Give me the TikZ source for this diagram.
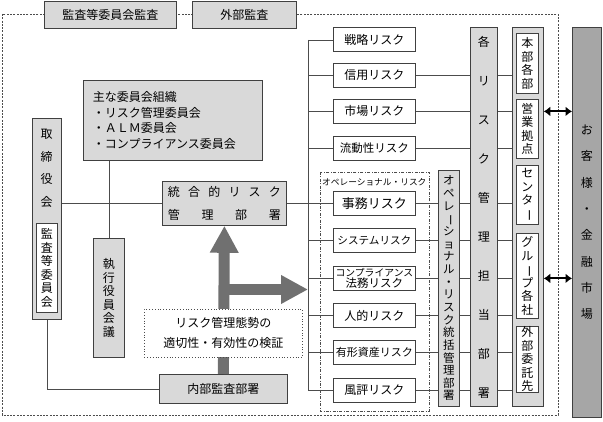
\documentclass[tikz,border=0pt]{standalone}
\usepackage{fontspec}
\setmainfont{Noto Sans CJK JP}
\usepackage{graphicx}
\usetikzlibrary{arrows.meta}
\tikzstyle{gris} = [rectangle, draw=black!75, line width=0.8pt, fill=black!15, inner sep=0pt, align=center, anchor=north west]
\tikzstyle{blanc} = [rectangle, draw=black!75, line width=0.8pt, fill=white, inner sep=0pt, align=center, anchor=north west]
\tikzstyle{risque} = [blanc, minimum width=82pt, minimum height=24pt]
\tikzstyle{tate} = [blanc, minimum width=22pt, font=\fontsize{12}{13.5}\selectfont]
\tikzstyle{trait} = [draw=black!70, line width=0.7pt]
\tikzstyle{fleche} = [draw=black!56, line width=11pt, -{Triangle[length=27pt,width=27pt]}]
\tikzstyle{double} = [draw=black, line width=1.8pt, {Latex[length=6.5pt,width=10pt]}-{Latex[length=6.5pt,width=10pt]}]
\newcommand{\bou}{\rotatebox[origin=c]{-90}{ー}}

\begin{document}
\begin{tikzpicture}[x=1pt, y=-1pt, font=\fontsize{12}{14}\selectfont]
        \useasboundingbox (0,0) rectangle (603,422);

        % cadre pointille
        \draw[draw=black!70, line width=0.6pt, dash pattern=on 2pt off 1.3pt] (2,14) rectangle (558,415);

        \node (AK) [gris, minimum width=132pt, minimum height=27pt] at (44,1) {監査等委員会監査};
        \node (GK) [gris, minimum width=104pt, minimum height=27pt] at (192,1) {外部監査};

        \node (TB) [gris, minimum width=29pt, minimum height=201pt] at (32,118) {};
        \node (TBt) [anchor=north, inner sep=0pt, align=center, font=\fontsize{12}{22.5}\selectfont] at (46.5,129) {取\\締\\役\\会};
        \node (KT) [blanc, minimum width=21pt, minimum height=89pt, font=\fontsize{12}{13.5}\selectfont] at (36,223) {監\\査\\等\\委\\員\\会};

        \node (II) [gris, minimum width=179pt, minimum height=80pt, text width=160pt, align=left, font=\fontsize{12}{15.5}\selectfont] at (83,80) {主な委員会組織\\・リスク管理委員会\\・ＡＬＭ委員会\\・コンプライアンス委員会};
        \node (SK) [gris, minimum width=31pt, minimum height=119pt, font=\fontsize{12}{13.5}\selectfont] at (93,238) {執\\行\\役\\員\\会\\議};

        \node (TG) [gris, minimum width=124pt, minimum height=44pt, font=\fontsize{12}{23}\selectfont] at (162,181) {\makebox[113pt][s]{統\hfil 合\hfil 的\hfil リ\hfil ス\hfil ク}\\\makebox[113pt][s]{管\hfil 理\hfil 部\hfil 署}};
        \node (NK) [gris, minimum width=128pt, minimum height=29pt] at (159,374) {内部監査部署};

        % risques
        \draw[trait, dash pattern=on 3pt off 1.5pt on 0.8pt off 1.5pt] (320,172) rectangle (429,411);
        \node (OL) [anchor=west, inner sep=0pt, font=\fontsize{8.7}{10}\selectfont] at (322,182) {オペレーショナル・リスク};

        \node (R1) [risque] at (333,27.5) {戦略リスク};
        \node (R2) [risque] at (333,63) {信用リスク};
        \node (R3) [risque] at (333,99) {市場リスク};
        \node (R4) [risque, font=\fontsize{11.5}{13}\selectfont] at (333,136) {流動性リスク};
        \node (R5) [risque, font=\fontsize{13}{14}\selectfont] at (333,191) {事務リスク};
        \node (R6) [risque, font=\fontsize{10.6}{12}\selectfont] at (333,228) {システムリスク};
        \node (R7) [risque, font=\fontsize{11.5}{11.5}\selectfont] at (333,266) {{\fontsize{9.8}{11}\selectfont コンプライアンス}\\法務リスク};
        \node (R8) [risque] at (333,303) {人的リスク};
        \node (R9) [risque, font=\fontsize{11}{12}\selectfont] at (333,340) {有形資産リスク};
        \node (R10) [risque] at (333,377.5) {風評リスク};

        \node (OP) [gris, minimum width=21pt, minimum height=236pt, font=\fontsize{11.5}{12.65}\selectfont] at (438,170) {オ\\ペ\\レ\\\bou\\シ\\ョ\\ナ\\ル\\・\\リ\\ス\\ク\\統\\括\\管\\理\\部\\署};
        \node (KR) [gris, minimum width=27pt, minimum height=379pt, font=\fontsize{12}{39}\selectfont] at (470,27) {各\\リ\\ス\\ク\\管\\理\\担\\当\\部\\署};

        \node (HB) [gris, minimum width=31pt, minimum height=379pt] at (512,27) {};
        \node (H1) [tate, minimum height=60pt] at (516,33) {本\\部\\各\\部};
        \node (H2) [tate, minimum height=59pt] at (516,99) {営\\業\\拠\\点};
        \node (H3) [tate, minimum height=59pt] at (516,165) {セ\\ン\\タ\\\bou};
        \node (H4) [tate, minimum height=85pt] at (516,233) {グ\\ル\\\bou\\プ\\各\\社};
        \node (H5) [tate, minimum height=66pt] at (516,326) {外\\部\\委\\託\\先};

        \node (OK) [gris, fill=black!35, minimum width=29pt, minimum height=390pt, font=\fontsize{12}{26.3}\selectfont] at (572,27) {お\\客\\様\\・\\金\\融\\市\\場};

        % liaisons
        \draw[trait] (TB.east |- TG.west) -- (TG.west);
        \draw[trait] (II.south -| SK.north) -- (SK.north);
        \draw[trait] (TB.south) |- (NK.west);

        \coordinate (bus) at (308,0);
        \draw[trait] (TG.east) -- (bus |- TG.east);
        \draw[trait] (bus |- R1.west) -- (bus |- R10.west);
        \foreach \i in {1,...,10} \draw[trait] (bus |- R\i.west) -- (R\i.west);
        \foreach \i in {2,3,4} \draw[trait] (R\i.east) -- (R\i.east -| KR.west);
        \foreach \i in {5,...,10} {
            \draw[trait] (R\i.east) -- (R\i.east -| OP.west);
            \draw[trait] (R\i.east -| OP.east) -- (R\i.east -| KR.west);
        }
        \foreach \i in {2,...,10} \draw[trait] (R\i.east -| KR.east) -- (R\i.east -| HB.west);

        \draw[double] (R3.east -| HB.east) -- (R3.east -| OK.west);
        \draw[double] (R7.east -| HB.east) -- (R7.east -| OK.west);

        % fleches grises
        \coordinate (fork) at (224,289.5);
        \draw[fleche] (NK.north) -- (TG.south);
        \draw[fleche] (fork) -- (fork -| bus);

        \node (KS) [blanc, draw=black!70, dotted, minimum width=158pt, minimum height=48pt, font=\fontsize{12}{20}\selectfont] at (144,309) {リスク管理態勢の\\適切性・有効性の検証};

    \end{tikzpicture}
\end{document}
